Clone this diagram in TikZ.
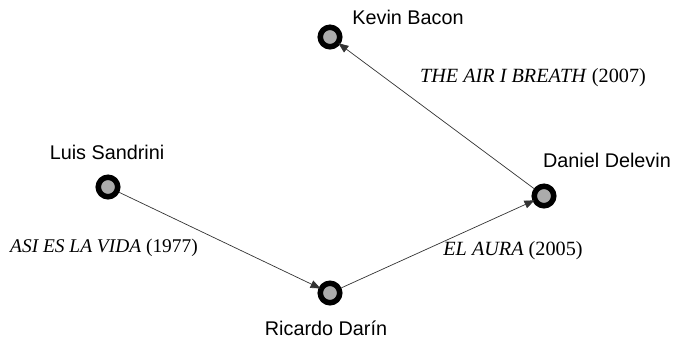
\documentclass[tikz,border=0pt]{standalone}
\usepackage{fontspec}
\setmainfont{Liberation Serif}
\newfontfamily\arialf{Liberation Sans}
\usetikzlibrary{arrows.meta}
\begin{document}
\begin{tikzpicture}[x=1pt,y=-1pt,
  actor/.style={circle,draw=black,line width=5.5pt,fill=black!33,minimum size=19.5pt,inner sep=0pt},
  personlbl/.style={font=\arialf\fontsize{19.8}{23}\selectfont,inner sep=0pt},
  filmlbl/.style={font=\fontsize{20.2}{23}\selectfont,inner sep=0pt},
  link/.style={draw=black!80,line width=0.7pt,-{Triangle[length=10pt,width=8pt]},shorten >=-2pt}]
\useasboundingbox (0,0) rectangle (673,341);
\node[actor] (kb) at (330,37) {};
\node[actor] (ls) at (108,187) {};
\node[actor] (rd) at (330,293) {};
\node[actor] (dd) at (544,196) {};
\node[personlbl] (kbl) at (408,17) {Kevin Bacon};
\node[personlbl] (lsl) at (107,152) {Luis Sandrini};
\node[personlbl] (rdl) at (326,328) {Ricardo Darín};
\node[personlbl] (ddl) at (607,160) {Daniel Delevin};
\node[filmlbl,font=\fontsize{19.4}{23}\selectfont] (f1) at (104,248) {\textit{ASI ES LA VIDA} (1977)};
\node[filmlbl] (f2) at (513,251) {\textit{EL AURA} (2005)};
\node[filmlbl] (f3) at (533,78) {\textit{THE AIR I BREATH} (2007)};
\draw[link] (ls) -- (rd);
\draw[link] (rd) -- (dd);
\draw[link] (dd) -- (kb);
\end{tikzpicture}
\end{document}
